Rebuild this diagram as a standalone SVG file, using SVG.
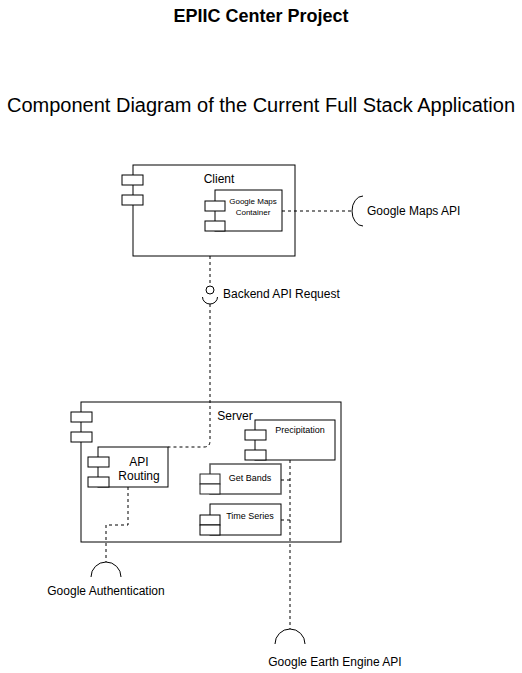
<svg xmlns="http://www.w3.org/2000/svg" width="522" height="673" viewBox="0 0 522 673">
<style>
text{font-family:"Liberation Sans",Arial,Helvetica,sans-serif;fill:#000}
.box{fill:#fff;stroke:#000;stroke-width:1}
.gbox{fill:#fff;stroke:#555;stroke-width:1.5}
.port{fill:#fff;stroke:#000;stroke-width:1}
.dash{fill:none;stroke:#000;stroke-width:1;stroke-dasharray:3 3}
.arc{fill:none;stroke:#000;stroke-width:1}
.l12{font-size:12px}
.l9{font-size:9px}
.l8{font-size:8px}
.c{text-anchor:middle}
</style>
<rect x="0" y="0" width="522" height="673" fill="#fff"/>
<g id="title">
<text x="261" y="22" class="c" style="font-size:18px;font-weight:bold">EPIIC Center Project</text>
<text x="261" y="112" class="c" style="font-size:20px">Component Diagram of the Current Full Stack Application</text>
</g>
<g id="client">
<rect class="box" x="133" y="165" width="162" height="91"/>
<rect class="port" x="122" y="175" width="21" height="10"/>
<rect class="port" x="122" y="195" width="21" height="10"/>
<text x="219" y="183" class="l12 c">Client</text>
</g>
<g id="google-maps-container">
<rect class="box" x="215" y="190" width="67" height="41"/>
<rect class="port" x="205" y="201" width="20" height="10"/>
<rect class="port" x="205" y="221" width="20" height="10"/>
<text x="253" y="204" class="l8 c">Google Maps</text>
<text x="253" y="215" class="l8 c">Container</text>
</g>
<g id="google-maps-api">
<path class="arc" d="M363,196 A11 15 0 0 0 363,226"/>
<text x="367" y="215" class="l12">Google Maps API</text>
</g>
<g id="backend-api-request">
<circle class="arc" cx="210" cy="290" r="4"/>
<path class="arc" d="M202.5,297 A7.5 7 0 0 0 217.5,297"/>
<text x="223" y="298" class="l12">Backend API Request</text>
</g>
<g id="server">
<rect class="box" x="81" y="402" width="260" height="140"/>
<rect class="port" x="71" y="412" width="21" height="10"/>
<rect class="port" x="71" y="432" width="21" height="10"/>
<text x="235" y="420" class="l12 c">Server</text>
</g>
<g id="api-routing">
<rect class="box" x="98" y="447" width="70" height="40"/>
<rect class="port" x="88" y="457" width="21" height="10"/>
<rect class="port" x="88" y="477" width="21" height="10"/>
<text x="139" y="466" class="l12 c">API</text>
<text x="139" y="480" class="l12 c">Routing</text>
</g>
<g id="precipitation">
<rect class="box" x="255" y="420" width="80" height="40"/>
<rect class="port" x="245" y="430" width="21" height="10"/>
<rect class="port" x="245" y="450" width="21" height="10"/>
<text x="300" y="433" class="l9 c">Precipitation</text>
</g>
<g id="get-bands">
<rect class="gbox" x="210" y="464" width="71" height="30"/>
<rect class="port" x="200" y="474" width="20" height="10" style="stroke:#222"/>
<rect class="port" x="200" y="484" width="20" height="10" style="stroke:#222"/>
<text x="250" y="481" class="l9 c">Get Bands</text>
</g>
<g id="time-series">
<rect class="box" x="210" y="504" width="71" height="31"/>
<rect class="port" x="200" y="515" width="20" height="10"/>
<rect class="port" x="200" y="525" width="20" height="10"/>
<text x="250" y="519" class="l9 c">Time Series</text>
</g>
<g id="google-authentication">
<path class="arc" d="M91,577 A15 15 0 0 1 121,577"/>
<text x="106" y="595" class="l12 c">Google Authentication</text>
</g>
<g id="google-earth-engine-api">
<path class="arc" d="M275,644 A15 15 0 0 1 305,644"/>
<text x="335" y="666" class="l12 c">Google Earth Engine API</text>
</g>
<g id="connectors">
<path class="dash" d="M282,211 L351,211"/>
<path class="dash" d="M210,256 L210,286"/>
<path class="dash" d="M210,304 L210,441 Q210,447 204,447 L168,447"/>
<path class="dash" d="M128,487 L128,525 L106,525 L106,562"/>
<path class="dash" d="M290,460 L290,629"/>
<path class="dash" d="M281,480 L290,480"/>
<path class="dash" d="M281,520 L290,520"/>
</g>
</svg>
